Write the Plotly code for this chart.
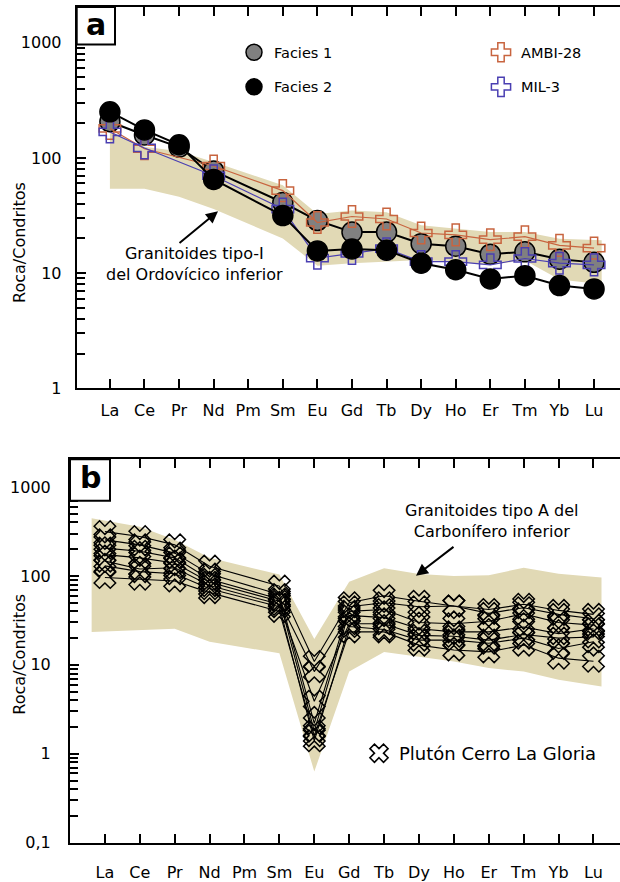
import plotly.graph_objects as go

# ---------------- data ----------------
elements = ["La", "Ce", "Pr", "Nd", "Pm", "Sm", "Eu", "Gd", "Tb", "Dy", "Ho", "Er", "Tm", "Yb", "Lu"]
idx = list(range(len(elements)))

# Panel a
facies1 = [206, 158, 124, 77, None, 41, 28.6, 22.7, 22.7, 18, 17.1, 14.6, 15.3, 13.2, 12.4]
facies2 = [251, 175, 130, 65, None, 31.6, 15.6, 16.2, 15.8, 12.2, 10.7, 8.9, 9.5, 7.8, 7.3]
ambi28 = [180, 120, None, 85, None, 52, 27.5, 31, 29.5, 22.3, 21.5, 19.5, 20.7, 17.4, 16.5]
mil3 = [168, 122, None, 70, None, 36, 13.5, 14.8, 16.3, 12.6, 12.6, 11.8, 13.4, 12.2, 11.8]

# field of Lower Ordovician I-type granitoids (x in element index units)
field_a_x = [0, 1, 2, 3, 5, 6, 7, 8, 9, 10, 11, 12, 13, 14.22]
field_a_upper = [170, 125, 114, 92, 58, 32.6, 35, 33.7, 26, 24.3, 22.7, 22.7, 19.9, 19.3]
field_a_lower = [54, 54, 46, 36, 20, 11.6, 12.2, 12.6, 13, 12.6, 11.8, 12.9, 8.8, 8.0]

# Panel b: Plutón Cerro La Gloria samples
gloria = [
    [316, 278, 224, 129, None, 77, 10.9, 50, 60, 52, 46, 42, 48, 41, 37],
    [255, 224, 181, 105, None, 62, 2.2, 45, 50, 45, 46, 38, 44, 37, 33],
    [206, 190, 160, 92, None, 55, 1.8, 40, 42, 30, 29, 31, 37.5, 30, 28],
    [174, 160, 140, 85, None, 52, 8.4, 36, 34, 25.5, 23.5, 23.5, 26.7, 22.5, 25.5],
    [147, 120, 124, 78, None, 48, 3.9, 29, 29, 21.5, 21, 19, 22, 20, 20.6],
    [130, 112, 106, 72, None, 45, 1.4, 27, 25, 19, 19, 17.5, 20, 15.3, 18.2],
    [96, 92, 88, 65, None, 40, 1.6, 23.5, 23.5, 16.7, 14.7, 14, 16.7, 11.9, 11],
]

# field of Lower Carboniferous A-type granitoids
field_b_x = [-0.38, 1, 2, 3, 5, 6, 7, 8, 9, 10, 11, 12, 13, 14.23]
field_b_upper = [445, 359, 255, 160, 104, 19.5, 86, 122, 105, 100, 102, 124, 106, 96]
field_b_lower = [23.5, 24.5, 25.5, 18.2, 13.5, 0.63, 8.4, 14, 12.4, 10.9, 9.2, 8.4, 6.8, 5.7]

yticks_a = [1, 10, 100, 1000]
yticktext_a = ["1", "10", "100", "1000"]
yticks_b = [0.1, 1, 10, 100, 1000]
yticktext_b = ["0,1", "1", "10", "100", "1000"]

# ---------------- styling helpers ----------------
W, H = 620, 882
FONT = "DejaVu Sans"
FIELD = "#e1d9b5"
AMBI_C = "#c8643f"
MIL_C = "#4a3fb2"


def px_x(p):
    return p / W


def px_y(p):
    return 1 - p / H


def minor_vals(lo, hi):
    out = []
    d = lo
    while d < hi:
        for m in range(2, 10):
            out.append(m * d)
        d *= 10
    return out


fig = go.Figure()

# ---------------- panel a ----------------
fig.add_trace(go.Scatter(
    x=field_a_x + field_a_x[::-1], y=field_a_upper + field_a_lower[::-1],
    fill="toself", fillcolor=FIELD, line=dict(width=0), mode="lines",
    hoverinfo="skip", showlegend=False, xaxis="x", yaxis="y"))

fig.add_trace(go.Scatter(
    x=idx, y=facies1, mode="lines+markers", connectgaps=True,
    line=dict(color="black", width=2),
    marker=dict(symbol="circle", size=20, color="#808080", line=dict(color="black", width=1.5)),
    showlegend=False, xaxis="x", yaxis="y"))
fig.add_trace(go.Scatter(
    x=idx, y=ambi28, mode="lines+markers", connectgaps=True,
    line=dict(color=AMBI_C, width=1.2),
    marker=dict(symbol="cross-open", size=18, color=AMBI_C, line=dict(color=AMBI_C, width=1.5)),
    showlegend=False, xaxis="x", yaxis="y"))
fig.add_trace(go.Scatter(
    x=idx, y=mil3, mode="lines+markers", connectgaps=True,
    line=dict(color=MIL_C, width=1.2),
    marker=dict(symbol="cross-open", size=18, color=MIL_C, line=dict(color=MIL_C, width=1.5)),
    showlegend=False, xaxis="x", yaxis="y"))
fig.add_trace(go.Scatter(
    x=idx, y=facies2, mode="lines+markers", connectgaps=True,
    line=dict(color="black", width=2),
    marker=dict(symbol="circle", size=20, color="black", line=dict(color="black", width=1.5)),
    showlegend=False, xaxis="x", yaxis="y"))

# legend-only entries
fig.add_trace(go.Scatter(x=[None], y=[None], mode="markers", name="Facies 1",
                         marker=dict(symbol="circle", size=20, color="#808080", line=dict(color="black", width=1.5)),
                         legend="legend", xaxis="x", yaxis="y"))
fig.add_trace(go.Scatter(x=[None], y=[None], mode="markers", name="Facies 2",
                         marker=dict(symbol="circle", size=20, color="black", line=dict(color="black", width=1.5)),
                         legend="legend2", xaxis="x", yaxis="y"))
fig.add_trace(go.Scatter(x=[None], y=[None], mode="markers", name="AMBI-28",
                         marker=dict(symbol="cross-open", size=18, color=AMBI_C, line=dict(color=AMBI_C, width=1.5)),
                         legend="legend3", xaxis="x", yaxis="y"))
fig.add_trace(go.Scatter(x=[None], y=[None], mode="markers", name="MIL-3",
                         marker=dict(symbol="cross-open", size=18, color=MIL_C, line=dict(color=MIL_C, width=1.5)),
                         legend="legend4", xaxis="x", yaxis="y"))

# ---------------- panel b ----------------
fig.add_trace(go.Scatter(
    x=field_b_x + field_b_x[::-1], y=field_b_upper + field_b_lower[::-1],
    fill="toself", fillcolor=FIELD, line=dict(width=0), mode="lines",
    hoverinfo="skip", showlegend=False, xaxis="x2", yaxis="y2"))

for s in gloria:
    fig.add_trace(go.Scatter(
        x=idx, y=s, mode="lines+markers", connectgaps=True,
        line=dict(color="black", width=1.1),
        marker=dict(symbol="x-open", size=19, color="black", line=dict(color="black", width=1.5)),
        showlegend=False, xaxis="x2", yaxis="y2"))

fig.add_trace(go.Scatter(x=[None], y=[None], mode="markers", name="Plutón Cerro La Gloria",
                         marker=dict(symbol="x-open", size=19, color="black", line=dict(color="black", width=1.6)),
                         legend="legend5", xaxis="x2", yaxis="y2"))

# ---------------- axes ----------------
xa_common = dict(
    tickmode="array", tickvals=idx, ticktext=elements,
    ticks="inside", ticklen=9, tickwidth=2, tickcolor="black",
    showline=True, linewidth=2, linecolor="black", mirror="ticks",
    showgrid=False, zeroline=False,
    tickfont=dict(family=FONT, size=16, color="black"),
)
ya_common = dict(
    type="log", ticks="inside", ticklen=9, tickwidth=2, tickcolor="black",
    showline=True, linewidth=2, linecolor="black", mirror=False,
    showgrid=False, zeroline=False,
    tickfont=dict(family=FONT, size=16, color="black"),
)

ra = [0, 3.310]
rb = [-1, 3.314]

fig.update_layout(
    width=W, height=H,
    margin=dict(l=0, r=0, t=0, b=0),
    paper_bgcolor="white", plot_bgcolor="rgba(0,0,0,0)",
    xaxis=dict(**xa_common, domain=[px_x(76.7), 1], range=[-0.96, 14.75], anchor="y",
               ticklabelstandoff=6),
    yaxis=dict(**ya_common, domain=[px_y(393.3), px_y(7)], range=ra, anchor="x",
               tickvals=yticks_a, ticktext=yticktext_a, ticklabelstandoff=10,
               minor=dict(tickvals=minor_vals(1, 1000), ticks="inside", ticklen=8, tickwidth=2,
                          tickcolor="black", showgrid=False)),
    yaxis3=dict(type="log", range=ra, overlaying="y", side="right", anchor="x",
                showline=False, showgrid=False, zeroline=False, showticklabels=False,
                tickvals=yticks_a, ticks="inside", ticklen=11, tickwidth=2, tickcolor="black",
                minor=dict(tickvals=minor_vals(1, 1000), ticks="inside", ticklen=3, tickwidth=2,
                           tickcolor="black", showgrid=False)),
    xaxis2=dict(**xa_common, domain=[px_x(70), 1], range=[-1.0, 14.76], anchor="y2",
                ticklabelstandoff=14),
    yaxis2=dict(**ya_common, domain=[px_y(853.3), px_y(465)], range=rb, anchor="x2",
                tickvals=yticks_b, ticktext=yticktext_b, ticklabelstandoff=14,
                minor=dict(tickvals=minor_vals(0.1, 1000), ticks="inside", ticklen=8, tickwidth=2,
                           tickcolor="black", showgrid=False)),
    yaxis4=dict(type="log", range=rb, overlaying="y2", side="right", anchor="x2",
                showline=False, showgrid=False, zeroline=False, showticklabels=False,
                tickvals=yticks_b, ticks="inside", ticklen=11, tickwidth=2, tickcolor="black",
                minor=dict(tickvals=minor_vals(0.1, 1000), ticks="inside", ticklen=3, tickwidth=2,
                           tickcolor="black", showgrid=False)),
)

leg_common = dict(xanchor="left", yanchor="middle", bgcolor="rgba(0,0,0,0)", borderwidth=0,
                  itemwidth=30)
fig.update_layout(
    legend=dict(**leg_common, x=px_x(234), y=px_y(53), font=dict(family=FONT, size=14.5, color="black")),
    legend2=dict(**leg_common, x=px_x(234), y=px_y(88), font=dict(family=FONT, size=14.5, color="black")),
    legend3=dict(**leg_common, x=px_x(481), y=px_y(53), font=dict(family=FONT, size=14.5, color="black")),
    legend4=dict(**leg_common, x=px_x(481), y=px_y(88), font=dict(family=FONT, size=14.5, color="black")),
    legend5=dict(**leg_common, x=px_x(359), y=px_y(763), font=dict(family=FONT, size=18, color="black")),
)

# panel letter boxes
fig.add_shape(type="rect", xref="paper", yref="paper",
              x0=px_x(76.7), x1=px_x(115), y0=px_y(45), y1=px_y(7),
              line=dict(color="black", width=2), fillcolor="white", layer="above")
fig.add_shape(type="rect", xref="paper", yref="paper",
              x0=px_x(70), x1=px_x(110), y0=px_y(507), y1=px_y(465),
              line=dict(color="black", width=2), fillcolor="white", layer="above")

C = dict(xref="paper", yref="paper", xanchor="center", yanchor="middle", showarrow=False)
ann = []
ann.append(dict(**C, text="<b>a</b>", x=px_x(96), y=px_y(25),
                font=dict(family=FONT, size=30, color="black")))
ann.append(dict(**C, text="<b>b</b>", x=px_x(90), y=px_y(484),
                font=dict(family=FONT, size=30, color="black")))
for yc in (246, 663):
    ann.append(dict(**C, text="Roca/Condritos", x=px_x(20), y=px_y(yc), textangle=-90,
                    font=dict(family=FONT, size=16, color="black")))
ann.append(dict(**C, text="Granitoides tipo-I<br>del Ordovícico inferior", x=px_x(194), y=px_y(267),
                align="center", font=dict(family=FONT, size=16, color="black")))
ann.append(dict(**C, text="Granitoides tipo A del<br>Carbonífero inferior", x=px_x(492), y=px_y(528),
                align="center", font=dict(family=FONT, size=16, color="black")))
ann.append(dict(text="", x=px_x(218), y=px_y(214), xref="paper", yref="paper",
                showarrow=True, ax=-40, ay=33, arrowhead=2, arrowsize=1.2, arrowwidth=2,
                arrowcolor="black"))
ann.append(dict(text="", x=px_x(416), y=px_y(583), xref="paper", yref="paper",
                showarrow=True, ax=39, ay=-30, arrowhead=2, arrowsize=1.2, arrowwidth=2,
                arrowcolor="black"))
fig.update_layout(annotations=ann)

fig.write_html("out.html", config={"displayModeBar": False},
               post_script="document.body.style.margin='0';")
